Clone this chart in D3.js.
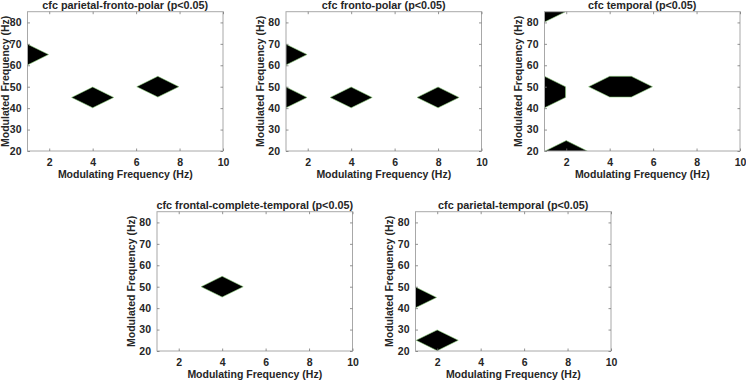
<!DOCTYPE html>
<html><head><meta charset="utf-8">
<script src="https://cdn.jsdelivr.net/npm/d3@7"></script>
<style>body{margin:0;background:#fff}svg{display:block}</style>
</head><body>
<svg id="c" width="746" height="382"></svg>
<script>
// ---- data ----
const modulatingFreq = [1, 2, 3, 4, 5, 6, 7, 8, 9, 10];            // Hz (x grid)
const modulatedFreq = [20, 25, 30, 35, 40, 45, 50, 55, 60, 65, 70, 75, 80, 85]; // Hz (y grid)
const xTicks = [2, 4, 6, 8, 10];
const yTicks = [20, 30, 40, 50, 60, 70, 80];
const titles = [
  "cfc parietal-fronto-polar (p<0.05)",
  "cfc fronto-polar (p<0.05)",
  "cfc temporal (p<0.05)",
  "cfc frontal-complete-temporal (p<0.05)",
  "cfc parietal-temporal (p<0.05)"
];
// significant cells [modulating Hz, modulated Hz]
const sigParietalFrontoPolar = [[1, 65], [4, 45], [7, 50]];
const sigFrontoPolar = [[1, 65], [1, 45], [4, 45], [8, 45]];
const sigTemporal = [[1, 85], [1, 45], [1, 50], [4, 50], [5, 50], [2, 20]];
const sigFrontalCompleteTemporal = [[4, 50]];
const sigParietalTemporal = [[1, 45], [2, 25]];
const xLabel = "Modulating Frequency (Hz)";
const yLabel = "Modulated Frequency (Hz)";

// ---- layout ----
const W = 195.5, H = 139.3;
const lefts = [27.5, 286, 544.5, 157, 415.5];
const tops = [11.7, 11.7, 11.7, 211.7, 211.7];
const sigSets = [sigParietalFrontoPolar, sigFrontoPolar, sigTemporal, sigFrontalCompleteTemporal, sigParietalTemporal];

const FONT = "'Liberation Sans', Arial, Helvetica, sans-serif";
const TXT = "#262626";
const svg = d3.select("#c");
const nx = modulatingFreq.length, ny = modulatedFreq.length;

const gx = d3.scaleLinear().domain([0.5, nx - 0.5]).range([modulatingFreq[0], modulatingFreq[nx - 1]]);
const gy = d3.scaleLinear().domain([0.5, ny - 0.5]).range([modulatedFreq[0], modulatedFreq[ny - 1]]);

sigSets.forEach((cells, k) => {
  const g = svg.append("g").attr("transform", `translate(${lefts[k]},${tops[k]})`);
  const x = d3.scaleLinear().domain([1, 10]).range([0, W]);
  const y = d3.scaleLinear().domain([20, 85]).range([H, 0]);

  g.append("clipPath").attr("id", "clip" + k)
    .append("rect").attr("width", W).attr("height", H);

  // grid of significance values
  const values = new Array(nx * ny).fill(0);
  cells.forEach(([fx, fy]) => {
    const i = modulatingFreq.indexOf(fx), j = modulatedFreq.indexOf(fy);
    values[j * nx + i] = 1;
  });
  const contours = d3.contours().size([nx, ny]).thresholds([0.03])(values);
  const line = d3.line().x(p => x(gx(p[0]))).y(p => y(gy(p[1]))).curve(d3.curveLinearClosed);
  const pathStr = contours[0].coordinates.map(poly => poly.map(ring => line(ring)).join("")).join("");

  g.append("path").attr("d", pathStr)
    .attr("clip-path", `url(#clip${k})`)
    .attr("fill", "#000").attr("fill-rule", "evenodd")
    .attr("stroke", "#8ccf7a").attr("stroke-width", 0.6);

  // box
  g.append("rect").attr("width", W).attr("height", H)
    .attr("fill", "none").attr("stroke", "#a8a8a8").attr("stroke-width", 1);

  const styleAxis = (sel) => {
    sel.select(".domain").remove();
    sel.selectAll(".tick line").attr("stroke", "#777").attr("stroke-width", 0.8);
    sel.selectAll("text").attr("fill", TXT).attr("font-family", FONT)
      .attr("font-weight", "bold").attr("font-size", 10.5);
  };

  g.append("g").attr("transform", `translate(0,${H})`)
    .call(d3.axisBottom(x).tickValues(xTicks).tickSize(-2.5).tickPadding(7.5).tickFormat(d3.format("d")))
    .call(styleAxis);
  g.append("g")
    .call(d3.axisTop(x).tickValues(xTicks).tickSize(-2.5).tickFormat(""))
    .call(styleAxis);
  g.append("g")
    .call(d3.axisLeft(y).tickValues(yTicks).tickSize(-2.5).tickPadding(6).tickFormat(d3.format("d")))
    .call(styleAxis);
  g.append("g").attr("transform", `translate(${W},0)`)
    .call(d3.axisRight(y).tickValues(yTicks).tickSize(-2.5).tickFormat(""))
    .call(styleAxis);

  const txt = (s, fs) => s.attr("fill", TXT).attr("font-family", FONT).attr("font-weight", "bold").attr("font-size", fs);

  g.append("text").attr("x", W / 2).attr("y", 9.2 - tops[k] + (tops[k] > 100 ? 200 : 0))
    .attr("text-anchor", "middle").text(titles[k]).call(txt, 10.8);
  g.append("text").attr("x", W / 2).attr("y", H + 27.5).attr("text-anchor", "middle").text(xLabel).call(txt, 10.5);
  const yl = Math.max(9, lefts[k] - 22.5) - lefts[k];
  g.append("text").attr("transform", `translate(${yl},${H / 2}) rotate(-90)`)
    .attr("text-anchor", "middle").text(yLabel).call(txt, 10.5);
});
</script>
</body></html>
